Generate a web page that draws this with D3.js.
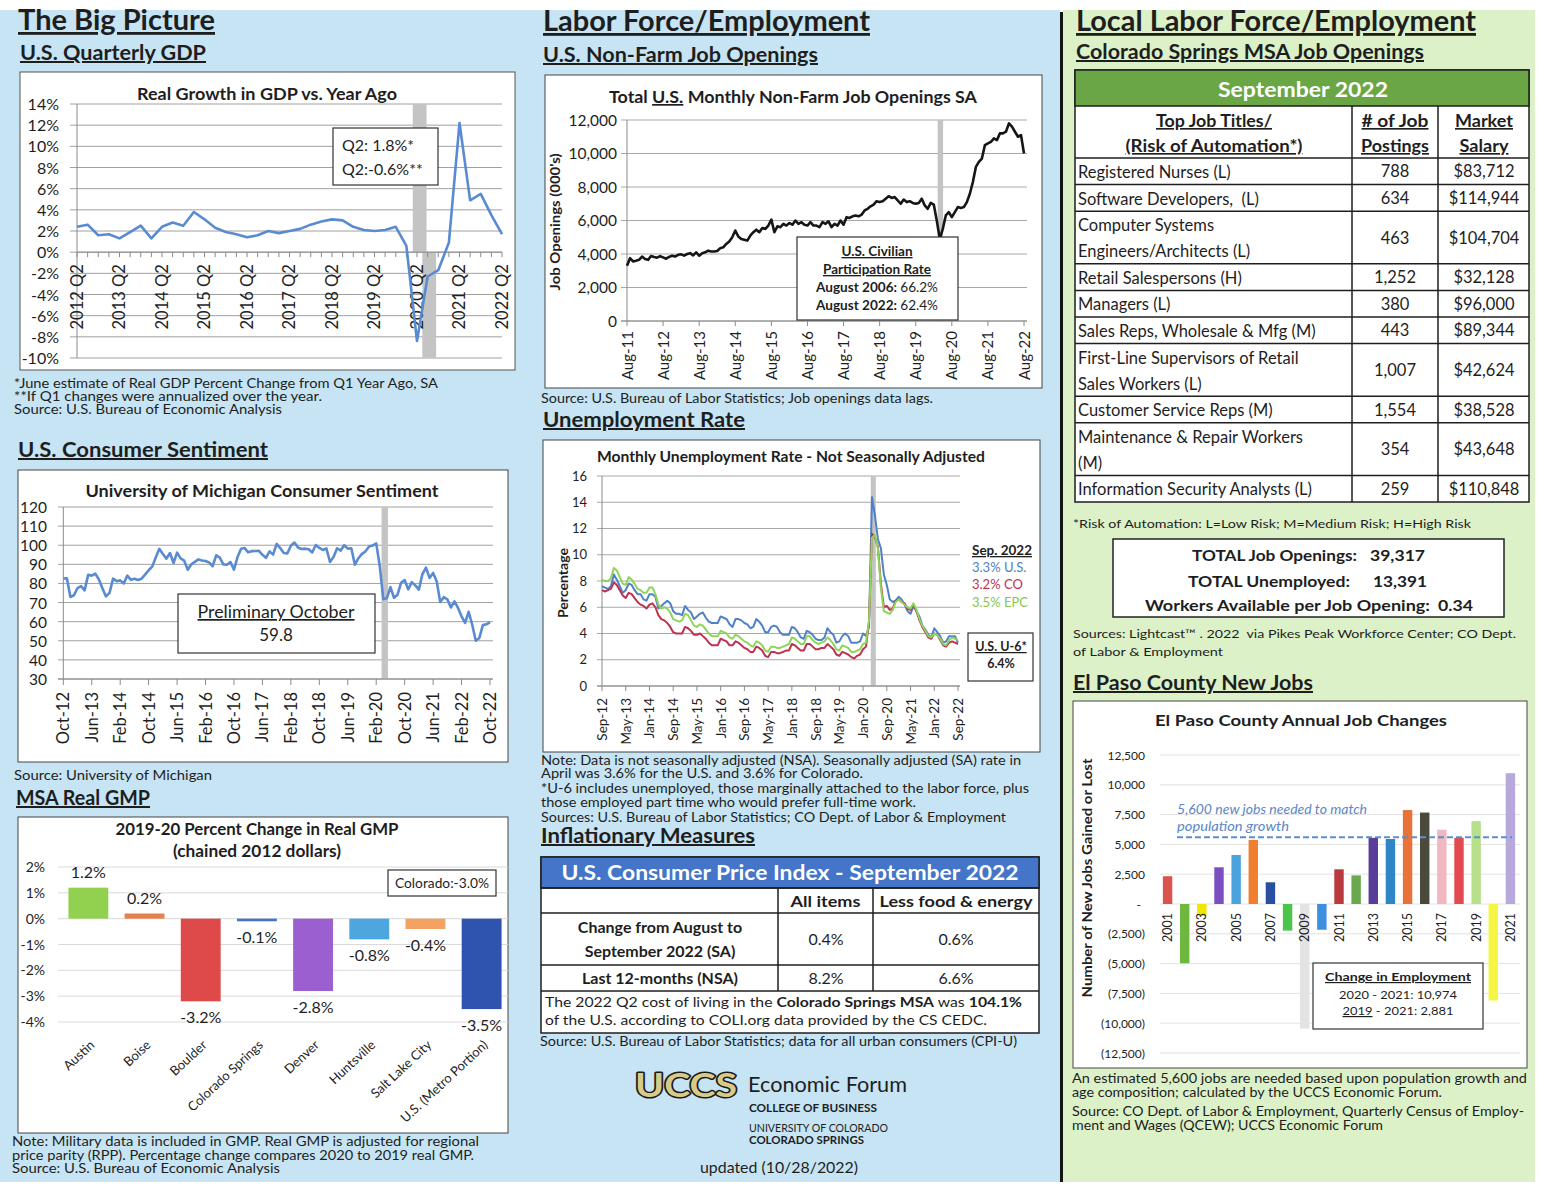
<!DOCTYPE html>
<html>
<head>
<meta charset="utf-8">
<title>UCCS Economic Forum - The Big Picture</title>
<script src="https://cdn.jsdelivr.net/npm/d3@7"></script>
<style>
  body { margin: 0; background: #fff; }
  svg { display: block; }
  text { font-family: Lato, "Open Sans", sans-serif; white-space: pre; }
</style>
</head>
<body>
<div id="sheet"></div>
<script>
// ---------------- data ----------------
// US real GDP growth vs year ago, quarterly 2012 Q2 .. 2022 Q2
var gdpGrowth = [2.4, 2.6, 1.6, 1.7, 1.3, 1.9, 2.5, 1.3, 2.4, 2.8, 2.5, 3.8, 3.1, 2.3, 1.9, 1.7,
  1.4, 1.6, 2.0, 1.8, 2.0, 2.2, 2.6, 2.9, 3.1, 3.0, 2.4, 2.1, 2.0, 2.1, 2.4, 0.6, -8.4, -2.3,
  -1.7, 0.9, 12.2, 4.9, 5.5, 3.5, 1.7];
var gdpTickLabels = ["2012 Q2", "2013 Q2", "2014 Q2", "2015 Q2", "2016 Q2", "2017 Q2", "2018 Q2",
  "2019 Q2", "2020 Q2", "2021 Q2", "2022 Q2"];
var gdpNotes = ["*June estimate of Real GDP Percent Change from Q1 Year Ago, SA",
  "**If Q1 changes were annualized over the year.",
  "Source: U.S. Bureau of Economic Analysis"];

// UMich consumer sentiment, monthly Oct-12 .. Oct-22
var sentiment = [82.6, 82.7, 72.9,
  73.8, 77.6, 78.6, 76.4, 84.5, 84.1, 85.1, 82.1, 77.5, 73.2, 75.1, 82.5,
  81.2, 81.6, 80.0, 84.1, 81.9, 82.5, 81.8, 82.5, 84.6, 86.9, 88.8, 93.6,
  98.1, 95.4, 93.0, 95.9, 90.7, 96.1, 93.1, 91.9, 87.2, 90.0, 91.3, 92.6,
  92.0, 91.7, 91.0, 89.0, 94.7, 93.5, 90.0, 89.8, 91.2, 87.2, 93.8, 98.2,
  98.5, 96.3, 96.9, 97.0, 97.1, 95.0, 93.4, 96.8, 95.1, 100.7, 98.5, 95.9,
  95.7, 99.7, 101.4, 98.8, 98.0, 98.2, 97.9, 96.2, 100.1, 98.6, 97.5, 98.3,
  91.2, 93.8, 98.4, 97.2, 100.0, 98.2, 98.4, 89.8, 93.2, 95.5, 96.8, 99.3,
  99.8, 101.0, 89.1, 71.8, 72.3, 78.1, 72.5, 74.1, 80.4, 81.8, 76.9, 80.7,
  79.0, 76.8, 84.9, 88.3, 82.9, 85.5, 81.2, 70.3, 72.8, 71.7, 67.4, 70.6,
  67.2, 62.8, 59.4, 65.2, 58.4, 50.0, 51.5, 58.2, 58.6, 59.8];
var sentimentTickLabels = ["Oct-12", "Jun-13", "Feb-14", "Oct-14", "Jun-15", "Feb-16", "Oct-16",
  "Jun-17", "Feb-18", "Oct-18", "Jun-19", "Feb-20", "Oct-20", "Jun-21", "Feb-22", "Oct-22"];

// MSA real GMP change 2019-20
var gmpCities = ["Austin", "Boise", "Boulder", "Colorado Springs", "Denver", "Huntsville",
  "Salt Lake City", "U.S. (Metro Portion)"];
var gmpChange = [1.2, 0.2, -3.2, -0.1, -2.8, -0.8, -0.4, -3.5];
var gmpColors = ["#92d050", "#e8804a", "#de4a4a", "#4472c4", "#9c5fd0", "#4ea6df", "#f4a261", "#2f54b0"];
var gmpNotes = ["Note: Military data is included in GMP. Real GMP is adjusted for regional",
  "price parity (RPP). Percentage change compares 2020 to 2019 real GMP.",
  "Source: U.S. Bureau of Economic Analysis"];

// US non-farm job openings (000's), monthly Aug-11 .. Aug-22
var jobOpenings = [3300, 3750, 3560, 3600, 3650,
  3850, 3700, 3650, 3880, 3820, 3780, 3870, 3800, 3720, 3830, 3900, 3850,
  3950, 3980, 3900, 4000, 4050, 3920, 4100, 3900, 4050, 4100, 4200, 4150,
  4150, 4180, 4350, 4400, 4600, 4750, 5000, 5400, 5050, 4900, 4850, 4800,
  5100, 5300, 5450, 5300, 5550, 5500, 5700, 6050, 5300, 5650, 5600, 5800,
  5700, 5850, 5750, 6000, 5800, 5900, 5750, 5700, 5900, 5700, 5700, 5600,
  5900, 5800, 5950, 5600, 5800, 5700, 6000, 5750, 6200, 6150, 6250, 6300,
  6250, 6350, 6600, 6700, 6850, 6950, 7150, 7100, 7150, 7300, 7450, 7350,
  7400, 7200, 7000, 7250, 7100, 7150, 7050, 7000, 7050, 7300, 6900, 6700,
  7050, 6950, 6000, 4900, 5500, 6300, 6500, 6200, 6500, 6800, 6750, 6800,
  7100, 7600, 8300, 9200, 9500, 9700, 10500, 10600, 10700, 10900, 10800, 11200,
  11200, 11300, 11800, 11600, 11300, 11000, 11100, 10000];
var jobTickLabels = ["Aug-11", "Aug-12", "Aug-13", "Aug-14", "Aug-15", "Aug-16", "Aug-17",
  "Aug-18", "Aug-19", "Aug-20", "Aug-21", "Aug-22"];

// unemployment rate NSA, monthly Sep-12 .. Sep-22
var unempUS = [7.6, 7.5, 7.4, 7.6,
  8.5, 8.1, 7.6, 7.1, 7.3, 7.8, 7.7, 7.3, 7.0, 7.0, 6.6, 6.5,
  7.0, 7.0, 6.8, 5.9, 6.1, 6.3, 6.5, 6.3, 5.7, 5.5, 5.5, 5.4,
  6.1, 5.8, 5.6, 5.1, 5.3, 5.5, 5.6, 5.2, 4.9, 4.8, 4.8, 4.8,
  5.3, 5.2, 5.1, 4.7, 4.5, 5.1, 5.1, 5.0, 4.8, 4.7, 4.4, 4.5,
  5.1, 4.9, 4.6, 4.1, 4.1, 4.5, 4.6, 4.5, 4.1, 3.9, 3.9, 3.9,
  4.5, 4.4, 4.1, 3.7, 3.6, 4.2, 4.1, 3.9, 3.6, 3.5, 3.5, 3.7,
  4.4, 4.1, 3.9, 3.3, 3.4, 3.8, 4.0, 3.8, 3.3, 3.3, 3.3, 3.4,
  4.0, 3.8, 4.5, 14.4, 13.0, 11.2, 10.5, 8.5, 7.7, 6.6, 6.4, 6.5,
  6.8, 6.6, 6.2, 5.7, 5.5, 6.1, 5.7, 5.3, 4.6, 4.3, 3.9, 3.7,
  4.4, 4.1, 3.8, 3.3, 3.4, 3.8, 3.8, 3.8, 3.3];
var unempCO = [7.3, 7.2, 7.3, 7.4,
  7.9, 7.7, 7.3, 6.9, 6.7, 7.1, 7.0, 6.7, 6.4, 6.2, 6.1, 5.9,
  6.2, 6.3, 6.0, 5.4, 5.1, 5.0, 4.8, 4.5, 4.1, 4.0, 4.0, 4.0,
  4.5, 4.4, 4.2, 3.9, 3.9, 4.0, 3.8, 3.6, 3.3, 3.1, 3.1, 3.1,
  3.6, 3.5, 3.4, 3.1, 3.1, 3.4, 3.3, 3.1, 2.9, 2.8, 2.6, 2.6,
  3.0, 2.9, 2.7, 2.3, 2.2, 2.6, 2.6, 2.5, 2.5, 2.6, 2.7, 2.7,
  3.2, 3.1, 2.9, 2.7, 2.7, 3.2, 3.2, 3.0, 2.8, 2.8, 2.9, 2.9,
  3.2, 3.0, 2.8, 2.4, 2.3, 2.6, 2.5, 2.4, 2.2, 2.1, 2.3, 2.4,
  2.8, 3.0, 4.9, 11.6, 11.3, 10.6, 7.8, 6.0, 6.1, 5.8, 5.9, 6.5,
  6.6, 6.4, 6.3, 5.9, 5.8, 6.2, 5.7, 5.0, 4.5, 4.1, 3.7, 3.6,
  4.0, 3.9, 3.5, 3.1, 3.0, 3.3, 3.4, 3.3, 3.2];
var unempEPC = [8.1, 8.0, 8.0, 8.2,
  9.0, 8.8, 8.3, 7.8, 7.7, 8.3, 8.1, 7.8, 7.4, 7.3, 7.1, 7.1,
  7.5, 7.5, 7.0, 6.2, 5.9, 6.0, 5.9, 5.6, 5.1, 5.0, 4.9, 5.0,
  5.5, 5.4, 5.0, 4.6, 4.5, 4.7, 4.6, 4.3, 4.0, 3.8, 3.8, 3.8,
  4.2, 4.1, 4.0, 3.7, 3.6, 3.9, 3.8, 3.6, 3.4, 3.3, 3.1, 3.0,
  3.4, 3.3, 3.1, 2.7, 2.6, 3.0, 3.0, 2.9, 2.9, 3.0, 3.1, 3.2,
  3.7, 3.6, 3.4, 3.2, 3.2, 3.8, 3.8, 3.5, 3.3, 3.2, 3.3, 3.4,
  3.7, 3.5, 3.2, 2.8, 2.7, 3.1, 3.0, 2.9, 2.6, 2.6, 2.7, 2.8,
  3.2, 3.3, 5.0, 11.3, 11.5, 10.5, 7.5, 5.7, 5.6, 5.5, 5.8, 6.4,
  6.6, 6.4, 6.2, 6.0, 5.9, 6.3, 5.8, 5.1, 4.6, 4.2, 3.8, 3.7,
  4.0, 3.9, 3.6, 3.2, 3.1, 3.5, 3.7, 3.6, 3.5];
var unempTickLabels = ["Sep-12", "May-13", "Jan-14", "Sep-14", "May-15", "Jan-16", "Sep-16",
  "May-17", "Jan-18", "Sep-18", "May-19", "Jan-20", "Sep-20", "May-21", "Jan-22", "Sep-22"];
var unempLegend = ["3.3% U.S.", "3.2% CO", "3.5% EPC"];
var unempColors = ["#4f81c7", "#c0304f", "#8fd45a"];
var unempNotes = ["Note: Data is not seasonally adjusted (NSA). Seasonally adjusted (SA) rate in",
  "April was 3.6% for the U.S. and 3.6% for Colorado.",
  "*U-6 includes unemployed, those marginally attached to the labor force, plus",
  "those employed part time who would prefer full-time work.",
  "Sources: U.S. Bureau of Labor Statistics; CO Dept. of Labor & Employment"];

// CPI table
var cpiColumns = ["All items", "Less food & energy"];
var cpiRowLabels = [["Change from August to", "September 2022 (SA)"], ["Last 12-months (NSA)"]];
var cpiAllItems = [0.4, 8.2];
var cpiCore = [0.6, 6.6];

// Colorado Springs MSA job openings table
var jobTitles = [["Registered Nurses (L)"], ["Software Developers,  (L)"],
  ["Computer Systems", "Engineers/Architects (L)"], ["Retail Salespersons (H)"], ["Managers (L)"],
  ["Sales Reps, Wholesale & Mfg (M)"], ["First-Line Supervisors of Retail", "Sales Workers (L)"],
  ["Customer Service Reps (M)"], ["Maintenance & Repair Workers", "(M)"],
  ["Information Security Analysts (L)"]];
var jobPostings = [788, 634, 463, 1252, 380, 443, 1007, 1554, 354, 259];
var jobSalaries = [83712, 114944, 104704, 32128, 96000, 89344, 42624, 38528, 43648, 110848];

// El Paso County annual job changes
var epYears = ["2001", "2002", "2003", "2004", "2005", "2006", "2007", "2008", "2009", "2010", "2011",
  "2012", "2013", "2014", "2015", "2016", "2017", "2018", "2019", "2020", "2021"];
var epChange = [2330, -4970, -1000, 3080, 4110, 5380, 1820, -2230, -10450, -2160, 2910,
  2400, 5550, 5450, 7880, 7670, 6230, 5550, 6950, -8093, 10974];
var epColors = ["#d9534f", "#6fb83f", "#f2e600", "#7b4fc0", "#4aa3df", "#f07f2f", "#2a4fa0",
  "#4ac44a", "#e3e3e3", "#3d8fe0", "#b93a3e", "#6aa84f", "#5a3d99", "#2f86c6", "#e8733a",
  "#4a4a3c", "#f2b8c2", "#e24a4f", "#b7e08a", "#f5f542", "#b8a9dc"];
var epNeeded = 5600;

// ---------------- helpers ----------------
var svg = d3.select('#sheet').append('svg').attr('width', 1553).attr('height', 1200);

function t(g, x, y, s, o) {
  o = o || {};
  var el = g.append('text').attr('x', x).attr('y', y)
    .attr('font-size', o.size || 13)
    .attr('text-anchor', o.anchor || 'start')
    .attr('fill', o.fill || '#1e1e1e');
  if (o.bold) el.attr('font-weight', 'bold');
  if (o.italic) el.attr('font-style', 'italic');
  if (o.font) el.attr('font-family', o.font);
  if (o.under) el.attr('text-decoration', 'underline');
  if (o.w) el.attr('textLength', o.w).attr('lengthAdjust', 'spacingAndGlyphs');
  if (o.rot) el.attr('transform', 'rotate(' + o.rot + ',' + x + ',' + y + ')');
  if (Array.isArray(s)) {
    s.forEach(function (p) {
      var sp = el.append('tspan').text(p[0]);
      var po = p[1] || {};
      if (po.bold) sp.attr('font-weight', 'bold');
      if (po.normal) sp.attr('font-weight', 'normal');
      if (po.under) sp.attr('text-decoration', 'underline');
    });
  } else {
    el.text(s);
  }
  return el;
}

function box(g, x, y, w, h, fill, stroke, sw) {
  return g.append('rect').attr('x', x).attr('y', y).attr('width', w).attr('height', h)
    .attr('fill', fill).attr('stroke', stroke || 'none').attr('stroke-width', sw || 1);
}

function hline(g, x1, x2, y, c, sw) {
  g.append('line').attr('x1', x1).attr('x2', x2).attr('y1', y).attr('y2', y)
    .attr('stroke', c).attr('stroke-width', sw || 1);
}
function vline(g, x, y1, y2, c, sw) {
  g.append('line').attr('x1', x).attr('x2', x).attr('y1', y1).attr('y2', y2)
    .attr('stroke', c).attr('stroke-width', sw || 1);
}

// ---------------- page background ----------------
box(svg, 0, 10, 1060, 1172, '#c6e4f3');
box(svg, 1063, 10, 472, 1172, '#dcf1c8');
vline(svg, 1061.5, 12, 1182, '#151515', 3);

// section headings
t(svg, 18, 30, 'The Big Picture', { size: 28, bold: true, under: true, w: 197 });
t(svg, 543, 31, 'Labor Force/Employment', { size: 28, bold: true, under: true, w: 327 });
t(svg, 1076, 31, 'Local Labor Force/Employment', { size: 28, bold: true, under: true, w: 400 });

// ---------------- U.S. Quarterly GDP ----------------
var g1 = svg.append('g');
t(g1, 20, 60, 'U.S. Quarterly GDP', { size: 20, bold: true, under: true, w: 186 });
box(g1, 20, 72, 495, 298, '#fff', '#555', 1);
t(g1, 267, 100, 'Real Growth in GDP vs. Year Ago', { size: 17, bold: true, anchor: 'middle', w: 260 });

var gx = d3.scaleLinear().domain([0, gdpGrowth.length - 1]).range([77, 502]);
var gy = d3.scaleLinear().domain([-10, 14]).range([358, 104]);
var gdpTicks = d3.range(-10, 15, 2);

g1.selectAll('.gdpgrid').data(gdpTicks).enter().append('line')
  .attr('x1', 70).attr('x2', 502).attr('y1', gy).attr('y2', gy)
  .attr('stroke', '#a0a0a0').attr('stroke-width', 1);
gdpTicks.forEach(function (d) {
  t(g1, 59, gy(d) + 6, d + '%', { size: 16, anchor: 'end' });
});

// recession shading (scan shows it split around the zero line)
box(g1, gx(31.6), gy(14), gx(32.9) - gx(31.6), gy(0) - gy(14), '#c4c4c4');
box(g1, gx(32.5), gy(0), gx(33.8) - gx(32.5), gy(-10) - gy(0), '#c4c4c4');

vline(g1, 77, 104, 358, '#8a8a8a', 1);
hline(g1, 77, 502, gy(0), '#8a8a8a', 1);
d3.range(gdpGrowth.length).forEach(function (i) {
  vline(g1, gx(i), gy(0), gy(0) + 5, '#8a8a8a', 1);
});
gdpTickLabels.forEach(function (s, k) {
  t(g1, gx(k * 4) + 6, gy(0) + 12, s, { size: 16.5, anchor: 'end', rot: -90 });
});

g1.append('path').datum(gdpGrowth)
  .attr('d', d3.line().x(function (d, i) { return gx(i); }).y(function (d) { return gy(d); }))
  .attr('fill', 'none').attr('stroke', '#5a8bd0').attr('stroke-width', 2.6)
  .attr('stroke-linejoin', 'round');

box(g1, 333, 128, 105, 57, '#fff', '#333', 1.2);
t(g1, 342, 151, 'Q2: 1.8%*', { size: 16 });
t(g1, 342, 175, 'Q2:-0.6%**', { size: 16 });

t(g1, 14, 388, gdpNotes[0], { size: 13, w: 424 });
t(g1, 14, 401, gdpNotes[1], { size: 13, w: 308 });
t(g1, 14, 414, gdpNotes[2], { size: 13, w: 268 });

// ---------------- U.S. Consumer Sentiment ----------------
var g2 = svg.append('g');
t(g2, 18, 457, 'U.S. Consumer Sentiment', { size: 20, bold: true, under: true, w: 250 });
box(g2, 18, 470, 490, 292, '#fff', '#444', 1);
t(g2, 262, 497, 'University of Michigan Consumer Sentiment', { size: 17, bold: true, anchor: 'middle', w: 353 });

var sx = d3.scaleLinear().domain([0, sentiment.length - 1]).range([63.3, 490]);
var sy = d3.scaleLinear().domain([30, 120]).range([679, 507]);
var sTicks = d3.range(30, 121, 10);
g2.selectAll('.sgrid').data(sTicks).enter().append('line')
  .attr('x1', 58).attr('x2', 493).attr('y1', sy).attr('y2', sy)
  .attr('stroke', '#a0a0a0').attr('stroke-width', 1);
sTicks.forEach(function (d) {
  t(g2, 47, sy(d) + 6, String(d), { size: 15.5, anchor: 'end' });
});
box(g2, sx(89.5), sy(120), sx(91.3) - sx(89.5), sy(30) - sy(120), '#c4c4c4');
vline(g2, 63.3, 507, 679, '#8a8a8a', 1);
hline(g2, 58, 493, 679, '#8a8a8a', 1);
sentimentTickLabels.forEach(function (s, k) {
  vline(g2, sx(k * 8), 679, 685, '#8a8a8a', 1);
  t(g2, sx(k * 8) + 6, 692, s, { size: 16.5, anchor: 'end', rot: -90 });
});
g2.append('path').datum(sentiment)
  .attr('d', d3.line().x(function (d, i) { return sx(i); }).y(function (d) { return sy(d); }))
  .attr('fill', 'none').attr('stroke', '#5a8bd0').attr('stroke-width', 2.6)
  .attr('stroke-linejoin', 'round');
box(g2, 178, 594, 197, 59, '#fff', '#333', 1.2);
t(g2, 276, 618, 'Preliminary October', { size: 17, anchor: 'middle', under: true, w: 157 });
t(g2, 276, 641, '59.8', { size: 17, anchor: 'middle' });
t(g2, 14, 780, 'Source: University of Michigan', { size: 13, w: 198 });

// ---------------- MSA Real GMP ----------------
var g3 = svg.append('g');
t(g3, 16, 805, 'MSA Real GMP', { size: 20, bold: true, under: true, w: 134 });
box(g3, 18, 817, 490, 316, '#fff', '#444', 1);
t(g3, 257, 835, '2019-20 Percent Change in Real GMP', { size: 17, bold: true, anchor: 'middle', w: 283 });
t(g3, 257, 857, '(chained 2012 dollars)', { size: 17, bold: true, anchor: 'middle', w: 168 });

var mx = d3.scaleBand().domain(gmpCities).range([60, 510]).paddingInner(0.29).paddingOuter(0.15);
var my = d3.scaleLinear().domain([-4, 2]).range([1022, 867]);
var mTicks = d3.range(-4, 3, 1);
g3.selectAll('.mgrid').data(mTicks).enter().append('line')
  .attr('x1', 58).attr('x2', 508).attr('y1', my).attr('y2', my)
  .attr('stroke', '#dadada').attr('stroke-width', 1);
mTicks.forEach(function (d) {
  t(g3, 45, my(d) + 5, d + '%', { size: 14, anchor: 'end' });
});
g3.selectAll('.gmpbar').data(gmpChange).enter().append('rect')
  .attr('x', function (d, i) { return mx(gmpCities[i]); })
  .attr('width', mx.bandwidth())
  .attr('y', function (d) { return my(Math.max(0, d)); })
  .attr('height', function (d) { return Math.abs(my(d) - my(0)); })
  .attr('fill', function (d, i) { return gmpColors[i]; });
gmpChange.forEach(function (d, i) {
  var cx = mx(gmpCities[i]) + mx.bandwidth() / 2;
  t(g3, cx, d >= 0 ? my(d) - 10 : my(d) + 22, d.toFixed(1) + '%', { size: 16, anchor: 'middle' });
  t(g3, cx + 7, 1046, gmpCities[i], { size: 13, anchor: 'end', rot: -43 });
});
box(g3, 388, 870, 108, 26, '#fff', '#333', 1.2);
t(g3, 442, 888, 'Colorado:-3.0%', { size: 13, anchor: 'middle', w: 94 });
t(g3, 12, 1146, gmpNotes[0], { size: 13, w: 467 });
t(g3, 12, 1160, gmpNotes[1], { size: 13, w: 462 });
t(g3, 12, 1173, gmpNotes[2], { size: 13, w: 268 });

// ---------------- U.S. Non-Farm Job Openings ----------------
var g4 = svg.append('g');
t(g4, 543, 62, 'U.S. Non-Farm Job Openings', { size: 20, bold: true, under: true, w: 275 });
box(g4, 545, 75, 497, 313, '#fff', '#444', 1);
t(g4, 793, 103, [['Total '], ['U.S.', { under: true }], [' Monthly Non-Farm Job Openings SA']],
  { size: 17, bold: true, anchor: 'middle', w: 368 });

var jx = d3.scaleLinear().domain([0, jobOpenings.length - 1]).range([627, 1024]);
var jy = d3.scaleLinear().domain([0, 12000]).range([321, 120]);
var jTicks = d3.range(0, 12001, 2000);
g4.selectAll('.jgrid').data(jTicks).enter().append('line')
  .attr('x1', 621).attr('x2', 1027).attr('y1', jy).attr('y2', jy)
  .attr('stroke', '#a8a8a8').attr('stroke-width', 1);
jTicks.forEach(function (d) {
  t(g4, 617, jy(d) + 5.5, d3.format(',')(d), { size: 15.5, anchor: 'end' });
});
t(g4, 560, 222, "Job Openings (000's)", { size: 13.5, bold: true, anchor: 'middle', rot: -90, w: 137 });
box(g4, jx(103.3), jy(12000), jx(105.1) - jx(103.3), jy(0) - jy(12000), '#c4c4c4');
vline(g4, 627, 120, 321, '#8a8a8a', 1);
hline(g4, 621, 1027, 321, '#8a8a8a', 1);
jobTickLabels.forEach(function (s, k) {
  vline(g4, jx(k * 12), 321, 326, '#8a8a8a', 1);
  t(g4, jx(k * 12) + 5.5, 331, s, { size: 15, anchor: 'end', rot: -90 });
});
g4.append('path').datum(jobOpenings)
  .attr('d', d3.line().x(function (d, i) { return jx(i); }).y(function (d) { return jy(d); }))
  .attr('fill', 'none').attr('stroke', '#161616').attr('stroke-width', 2.6)
  .attr('stroke-linejoin', 'round');
box(g4, 797, 237, 161, 83, '#fff', '#333', 1.2);
t(g4, 877, 256, 'U.S. Civilian', { size: 13.5, bold: true, under: true, anchor: 'middle' });
t(g4, 877, 274, 'Participation Rate', { size: 13.5, bold: true, under: true, anchor: 'middle' });
t(g4, 877, 292, [['August 2006: ', { bold: true }], ['66.2%']], { size: 13.5, anchor: 'middle', w: 122 });
t(g4, 877, 310, [['August 2022: ', { bold: true }], ['62.4%']], { size: 13.5, anchor: 'middle', w: 122 });
t(g4, 541, 403, 'Source: U.S. Bureau of Labor Statistics; Job openings data lags.', { size: 13, w: 392 });

// ---------------- Unemployment Rate ----------------
var g5 = svg.append('g');
t(g5, 543, 427, 'Unemployment Rate', { size: 20, bold: true, under: true, w: 202 });
box(g5, 543, 440, 497, 312, '#fff', '#444', 1);
t(g5, 791, 462, 'Monthly Unemployment Rate - Not Seasonally Adjusted', { size: 14.5, bold: true, anchor: 'middle', w: 388 });

var ux = d3.scaleLinear().domain([0, unempUS.length - 1]).range([602, 958]);
var uy = d3.scaleLinear().domain([0, 16]).range([686, 476]);
var uTicks = d3.range(0, 17, 2);
g5.selectAll('.ugrid').data(uTicks).enter().append('line')
  .attr('x1', 597).attr('x2', 960).attr('y1', uy).attr('y2', uy)
  .attr('stroke', '#a8a8a8').attr('stroke-width', 1);
uTicks.forEach(function (d) {
  t(g5, 587, uy(d) + 4.5, String(d), { size: 13, anchor: 'end' });
});
t(g5, 568, 583, 'Percentage', { size: 13, bold: true, anchor: 'middle', rot: -90, w: 70 });
box(g5, ux(90.6), uy(16), ux(92.3) - ux(90.6), uy(0) - uy(16), '#c4c4c4');
vline(g5, 602, 476, 686, '#8a8a8a', 1);
hline(g5, 597, 960, 686, '#8a8a8a', 1);
unempTickLabels.forEach(function (s, k) {
  vline(g5, ux(k * 8), 686, 691, '#8a8a8a', 1);
  t(g5, ux(k * 8) + 5, 698, s, { size: 13.5, anchor: 'end', rot: -90 });
});
[unempUS, unempCO, unempEPC].forEach(function (series, k) {
  g5.append('path').datum(series)
    .attr('d', d3.line().x(function (d, i) { return ux(i); }).y(function (d) { return uy(d); }))
    .attr('fill', 'none').attr('stroke', unempColors[k]).attr('stroke-width', 2)
    .attr('stroke-linejoin', 'round');
});
t(g5, 972, 555, 'Sep. 2022', { size: 13, bold: true, under: true, w: 60 });
unempLegend.forEach(function (s, k) {
  t(g5, 972, 572 + k * 17.3, s, { size: 13, fill: k === 2 ? '#86c84e' : unempColors[k] });
});
box(g5, 968, 633, 65, 48, '#fff', '#333', 1.2);
t(g5, 1001, 651, 'U.S. U-6*', { size: 12.5, bold: true, under: true, anchor: 'middle' });
t(g5, 1001, 668, '6.4%', { size: 12.5, bold: true, anchor: 'middle' });
var unempNoteY = [765, 778, 793, 807, 822];
var unempNoteW = [480, 322, 488, 375, 465];
unempNotes.forEach(function (s, k) {
  t(g5, 541, unempNoteY[k], s, { size: 13, w: unempNoteW[k] });
});

// ---------------- Inflationary Measures ----------------
var g6 = svg.append('g');
t(g6, 541, 843, 'Inflationary Measures', { size: 20, bold: true, under: true, w: 214 });
var cpiCols = [541, 778, 873, 1039];
var cpiRowsY = [857, 888, 913, 965, 991, 1033];
box(g6, 541, 857, 498, 176, '#fff', '#1e1e1e', 1.5);
box(g6, 541, 857, 498, 31, '#4475c8', '#1e1e1e', 1.5);
t(g6, 790, 880, 'U.S. Consumer Price Index - September 2022', { size: 21, bold: true, anchor: 'middle', fill: '#fff', w: 457 });
cpiRowsY.slice(1, 5).forEach(function (y) { hline(g6, 541, 1039, y, '#1e1e1e', 1.5); });
vline(g6, cpiCols[1], 888, 991, '#1e1e1e', 1.5);
vline(g6, cpiCols[2], 888, 991, '#1e1e1e', 1.5);
cpiColumns.forEach(function (s, k) {
  t(g6, (cpiCols[k + 1] + cpiCols[k + 2]) / 2, 907, s, { size: 16, bold: true, anchor: 'middle', w: k ? 153 : 70 });
});
cpiRowLabels.forEach(function (lines, r) {
  var top = cpiRowsY[r + 2], bot = cpiRowsY[r + 3], mid = (top + bot) / 2;
  lines.forEach(function (s, j) {
    t(g6, 660, mid + 6 + (j - (lines.length - 1) / 2) * 24, s, { size: 16, bold: true, anchor: 'middle' });
  });
  t(g6, 826, mid + 6, cpiAllItems[r].toFixed(1) + '%', { size: 16, anchor: 'middle' });
  t(g6, 956, mid + 6, cpiCore[r].toFixed(1) + '%', { size: 16, anchor: 'middle' });
});
t(g6, 545, 1007, [['The 2022 Q2 cost of living in the '], ['Colorado Springs MSA', { bold: true }],
  [' was '], ['104.1%', { bold: true }]], { size: 14, w: 477 });
t(g6, 545, 1025, 'of the U.S. according to COLI.org data provided by the CS CEDC.', { size: 14, w: 442 });
t(g6, 540, 1046, 'Source: U.S. Bureau of Labor Statistics; data for all urban consumers (CPI-U)', { size: 13, w: 477 });

// UCCS logo block
t(g6, 635, 1097, 'UCCS', { size: 33, bold: true, font: '"DejaVu Sans", sans-serif', fill: '#d8cb88', w: 102 })
  .attr('stroke', '#1a1a1a').attr('stroke-width', 3).attr('paint-order', 'stroke')
  .attr('stroke-linejoin', 'round');
t(g6, 748, 1092, 'Economic Forum', { size: 22, font: '"Liberation Sans", Arial, sans-serif', w: 159 });
t(g6, 749, 1112, 'COLLEGE OF BUSINESS', { size: 10.5, bold: true, font: '"Liberation Sans", Arial, sans-serif', w: 128 });
t(g6, 749, 1132, 'UNIVERSITY OF COLORADO', { size: 10.5, font: '"Liberation Sans", Arial, sans-serif', w: 139 });
t(g6, 749, 1144, 'COLORADO SPRINGS', { size: 10.5, bold: true, font: '"Liberation Sans", Arial, sans-serif', w: 115 });
t(g6, 779, 1173, 'updated (10/28/2022)', { size: 16, anchor: 'middle', w: 158 });

// ---------------- Colorado Springs MSA Job Openings ----------------
var g7 = svg.append('g');
t(g7, 1076, 59, 'Colorado Springs MSA Job Openings', { size: 20, bold: true, under: true, w: 348 });
var jtCols = [1075, 1352, 1438, 1529];
box(g7, 1075, 70, 454, 432, '#fff', '#1e1e1e', 1.5);
box(g7, 1075, 70, 454, 36, '#6aa646', '#1e1e1e', 1.5);
t(g7, 1303, 97, 'September 2022', { size: 21, bold: true, anchor: 'middle', fill: '#fff', w: 170 });
hline(g7, 1075, 1529, 158, '#1e1e1e', 1.5);
t(g7, 1214, 127, 'Top Job Titles/', { size: 16.5, bold: true, under: true, anchor: 'middle', w: 116 });
t(g7, 1214, 152, '(Risk of Automation*)', { size: 16.5, bold: true, under: true, anchor: 'middle', w: 177 });
t(g7, 1395, 127, '# of Job', { size: 16.5, bold: true, under: true, anchor: 'middle', w: 67 });
t(g7, 1395, 152, 'Postings', { size: 16.5, bold: true, under: true, anchor: 'middle', w: 68 });
t(g7, 1484, 127, 'Market', { size: 16.5, bold: true, under: true, anchor: 'middle', w: 58 });
t(g7, 1484, 152, 'Salary', { size: 16.5, bold: true, under: true, anchor: 'middle', w: 49 });
var rowY = 158;
jobTitles.forEach(function (lines, r) {
  var h = lines.length === 1 ? 26.6 : 52.6;
  lines.forEach(function (s, j) {
    t(g7, 1078, rowY + 20 + j * 26, s, { size: 16.5 });
  });
  var mid = rowY + h / 2 + 6;
  t(g7, 1395, mid, d3.format(',')(jobPostings[r]), { size: 16.5, anchor: 'middle' });
  t(g7, 1484, mid, '$' + d3.format(',')(jobSalaries[r]), { size: 16.5, anchor: 'middle' });
  rowY += h;
  if (r < jobTitles.length - 1) hline(g7, 1075, 1529, rowY, '#1e1e1e', 1.5);
});
vline(g7, jtCols[1], 106, 502, '#1e1e1e', 1.5);
vline(g7, jtCols[2], 106, 502, '#1e1e1e', 1.5);

var vdj = '"DejaVu Sans", Verdana, sans-serif';
t(g7, 1073, 528, '*Risk of Automation: L=Low Risk; M=Medium Risk; H=High Risk', { size: 12, font: vdj, w: 398 });
box(g7, 1113, 539, 391, 78, '#fff', '#222', 1.5);
t(g7, 1357, 561, 'TOTAL Job Openings:', { size: 15, bold: true, font: vdj, anchor: 'end', w: 165 });
t(g7, 1370, 561, '39,317', { size: 15, bold: true, font: vdj, w: 55 });
t(g7, 1350, 587, 'TOTAL Unemployed:', { size: 15, bold: true, font: vdj, anchor: 'end', w: 162 });
t(g7, 1373, 587, '13,391', { size: 15, bold: true, font: vdj, w: 54 });
t(g7, 1430, 611, 'Workers Available per Job Opening:', { size: 15, bold: true, font: vdj, anchor: 'end', w: 285 });
t(g7, 1438, 611, '0.34', { size: 15, bold: true, font: vdj, w: 35 });
t(g7, 1073, 638, 'Sources: Lightcast\u2122 . 2022  via Pikes Peak Workforce Center; CO Dept.', { size: 12, font: vdj, w: 443 });
t(g7, 1073, 656, 'of Labor & Employment', { size: 12, font: vdj, w: 150 });

// ---------------- El Paso County New Jobs ----------------
var g8 = svg.append('g');
t(g8, 1073, 690, 'El Paso County New Jobs', { size: 20, bold: true, under: true, font: vdj, w: 240 });
box(g8, 1073, 701, 454, 367, '#fff', '#444', 1);
t(g8, 1301, 726, 'El Paso County Annual Job Changes', { size: 15, bold: true, font: vdj, anchor: 'middle', w: 292 });

var ex = d3.scaleBand().domain(epYears).range([1159, 1519]).paddingInner(0.45).paddingOuter(0.225);
var ey = d3.scaleLinear().domain([-12500, 12500]).range([1053, 755]);
var eTicks = d3.range(-12500, 12501, 2500);
g8.selectAll('.egrid').data(eTicks).enter().append('line')
  .attr('x1', 1160).attr('x2', 1520).attr('y1', ey).attr('y2', ey)
  .attr('stroke', '#e2e2e2').attr('stroke-width', 1);
eTicks.forEach(function (d) {
  var s = d === 0 ? '-' : (d < 0 ? '(' + d3.format(',')(-d) + ')' : d3.format(',')(d));
  t(g8, d === 0 ? 1141 : 1145, ey(d) + 4.5, s, { size: 12, font: vdj, anchor: 'end' });
});
t(g8, 1092, 878, 'Number of New Jobs Gained or Lost', { size: 12.5, bold: true, font: vdj, anchor: 'middle', rot: -90, w: 239 });
g8.selectAll('.epbar').data(epChange).enter().append('rect')
  .attr('x', function (d, i) { return ex(epYears[i]); })
  .attr('width', ex.bandwidth())
  .attr('y', function (d) { return ey(Math.max(0, d)); })
  .attr('height', function (d) { return Math.abs(ey(d) - ey(0)); })
  .attr('fill', function (d, i) { return epColors[i]; });
epYears.forEach(function (s, i) {
  if (i % 2 === 0) {
    t(g8, ex(s) + ex.bandwidth() / 2 + 4.5, 913, s, { size: 12.5, font: '"Liberation Serif", serif', anchor: 'end', rot: -90 });
  }
});
g8.append('line').attr('x1', 1177).attr('x2', 1512).attr('y1', ey(epNeeded)).attr('y2', ey(epNeeded))
  .attr('stroke', '#5b8fcf').attr('stroke-width', 2).attr('stroke-dasharray', '6,3');
t(g8, 1177, 814, '5,600 new jobs needed to match', { size: 12.5, italic: true, font: vdj, fill: '#5b87c6', w: 190 });
t(g8, 1177, 831, 'population growth', { size: 12.5, italic: true, font: vdj, fill: '#5b87c6', w: 112 });
box(g8, 1313, 963, 170, 66, '#fff', '#333', 1.2);
t(g8, 1398, 981, 'Change in Employment', { size: 12, bold: true, under: true, font: vdj, anchor: 'middle', w: 146 });
t(g8, 1398, 999, '2020 - 2021: 10,974', { size: 12, font: vdj, anchor: 'middle', w: 118 });
t(g8, 1398, 1015, [['2019', { under: true }], [' - 2021: 2,881']], { size: 12, font: vdj, anchor: 'middle', w: 111 });

t(g8, 1072, 1083, 'An estimated 5,600 jobs are needed based upon population growth and', { size: 12.5, font: vdj, w: 455 });
t(g8, 1072, 1097, 'age composition; calculated by the UCCS Economic Forum.', { size: 12.5, font: vdj, w: 370 });
t(g8, 1072, 1116, 'Source: CO Dept. of Labor & Employment, Quarterly Census of Employ-', { size: 12.5, font: vdj, w: 452 });
t(g8, 1072, 1130, 'ment and Wages (QCEW); UCCS Economic Forum', { size: 12.5, font: vdj, w: 311 });
</script>
</body>
</html>
